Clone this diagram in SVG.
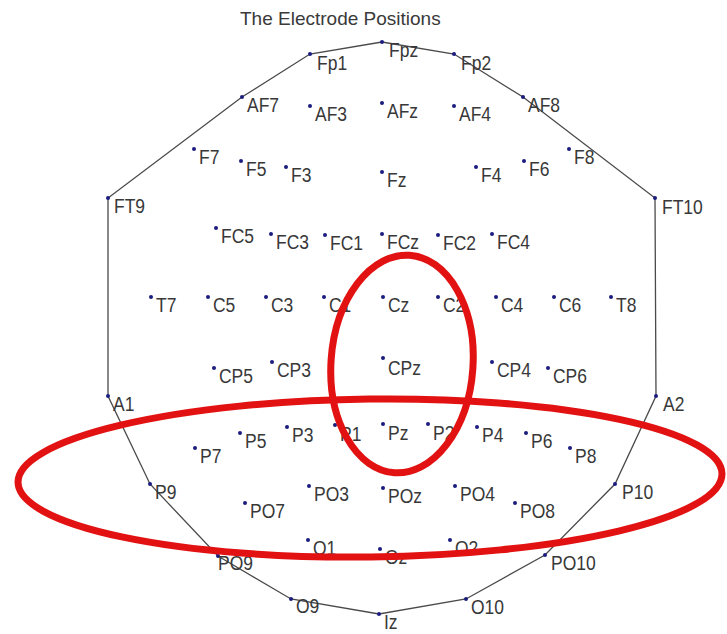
<svg xmlns="http://www.w3.org/2000/svg" width="727" height="634" viewBox="0 0 727 634">
<style>
  .bg{fill:#ffffff}
  .title{font-family:"Liberation Sans",Arial,sans-serif;font-size:19px;fill:#3a3a3a}
  .node circle{fill:#1c1c80}
  .node text{font-family:"Liberation Sans",Arial,sans-serif;font-size:17.5px;fill:#383838;transform:scale(1,1.12)}
  .outline{fill:none;stroke:#4a4a4a;stroke-width:1.3}
  .mark{fill:none;stroke:#e31212;stroke-width:7}
</style>
<rect class="bg" x="0" y="0" width="727" height="634"/>
<text class="title" x="240" y="25">The Electrode Positions</text>

<g id="connectors">
  <polygon class="outline" points="382,42 310,54 242,97 108,198 108,396 150,484 218,556 291,599 379,614 466,599 545,555 615,484 656,396 655,198 523,97 454,54"/>
</g>

<g id="nodes">
  <g id="Fp1" class="node" transform="translate(310 54)"><circle r="2"/><text x="7" y="14.5">Fp1</text></g>
  <g id="Fpz" class="node" transform="translate(382 42)"><circle r="2"/><text x="7" y="13.5">Fpz</text></g>
  <g id="Fp2" class="node" transform="translate(454 54)"><circle r="2"/><text x="7" y="14.5">Fp2</text></g>

  <g id="AF7" class="node" transform="translate(242 97)"><circle r="2"/><text x="5" y="13.5">AF7</text></g>
  <g id="AF3" class="node" transform="translate(310 106)"><circle r="2"/><text x="5" y="13.5">AF3</text></g>
  <g id="AFz" class="node" transform="translate(382 103)"><circle r="2"/><text x="5" y="13.5">AFz</text></g>
  <g id="AF4" class="node" transform="translate(454 106)"><circle r="2"/><text x="5" y="13.5">AF4</text></g>
  <g id="AF8" class="node" transform="translate(523 97)"><circle r="2"/><text x="5" y="13.5">AF8</text></g>

  <g id="F7" class="node" transform="translate(194 149)"><circle r="2"/><text x="5" y="13.5">F7</text></g>
  <g id="F5" class="node" transform="translate(241 161)"><circle r="2"/><text x="5" y="13.5">F5</text></g>
  <g id="F3" class="node" transform="translate(286 167)"><circle r="2"/><text x="5" y="13.5">F3</text></g>
  <g id="Fz" class="node" transform="translate(382 172)"><circle r="2"/><text x="5" y="13.5">Fz</text></g>
  <g id="F4" class="node" transform="translate(476 167)"><circle r="2"/><text x="5" y="13.5">F4</text></g>
  <g id="F6" class="node" transform="translate(524 161)"><circle r="2"/><text x="5" y="13.5">F6</text></g>
  <g id="F8" class="node" transform="translate(569 149)"><circle r="2"/><text x="5" y="13.5">F8</text></g>

  <g id="FT9" class="node" transform="translate(108 198)"><circle r="2"/><text x="6" y="13">FT9</text></g>
  <g id="FT10" class="node" transform="translate(655 198)"><circle r="2"/><text x="7" y="14.5">FT10</text></g>

  <g id="FC5" class="node" transform="translate(216 228)"><circle r="2"/><text x="5" y="13.5">FC5</text></g>
  <g id="FC3" class="node" transform="translate(271 234)"><circle r="2"/><text x="5" y="13.5">FC3</text></g>
  <g id="FC1" class="node" transform="translate(325 235)"><circle r="2"/><text x="5" y="13.5">FC1</text></g>
  <g id="FCz" class="node" transform="translate(382 234)"><circle r="2"/><text x="5" y="13.5">FCz</text></g>
  <g id="FC2" class="node" transform="translate(438 235)"><circle r="2"/><text x="5" y="13.5">FC2</text></g>
  <g id="FC4" class="node" transform="translate(492 234)"><circle r="2"/><text x="5" y="13.5">FC4</text></g>

  <g id="T7" class="node" transform="translate(151 297)"><circle r="2"/><text x="5" y="13.5">T7</text></g>
  <g id="C5" class="node" transform="translate(208 297)"><circle r="2"/><text x="5" y="13.5">C5</text></g>
  <g id="C3" class="node" transform="translate(266 297)"><circle r="2"/><text x="5" y="13.5">C3</text></g>
  <g id="C1" class="node" transform="translate(324 297)"><circle r="2"/><text x="5" y="13.5">C1</text></g>
  <g id="Cz" class="node" transform="translate(383 297)"><circle r="2"/><text x="5" y="13.5">Cz</text></g>
  <g id="C2" class="node" transform="translate(438 297)"><circle r="2"/><text x="5" y="13.5">C2</text></g>
  <g id="C4" class="node" transform="translate(496 297)"><circle r="2"/><text x="5" y="13.5">C4</text></g>
  <g id="C6" class="node" transform="translate(554 297)"><circle r="2"/><text x="5" y="13.5">C6</text></g>
  <g id="T8" class="node" transform="translate(611 297)"><circle r="2"/><text x="5" y="13.5">T8</text></g>

  <g id="CP5" class="node" transform="translate(214 368)"><circle r="2"/><text x="5" y="13.5">CP5</text></g>
  <g id="CP3" class="node" transform="translate(272 362)"><circle r="2"/><text x="5" y="13.5">CP3</text></g>
  <g id="CPz" class="node" transform="translate(383 358)"><circle r="2"/><text x="5" y="15">CPz</text></g>
  <g id="CP4" class="node" transform="translate(492 362)"><circle r="2"/><text x="5" y="13.5">CP4</text></g>
  <g id="CP6" class="node" transform="translate(548 368)"><circle r="2"/><text x="5" y="13.5">CP6</text></g>

  <g id="A1" class="node" transform="translate(108 396)"><circle r="2"/><text x="5" y="13.5">A1</text></g>
  <g id="A2" class="node" transform="translate(656 396)"><circle r="2"/><text x="7" y="13.5">A2</text></g>

  <g id="P7" class="node" transform="translate(195 448)"><circle r="2"/><text x="5" y="13.5">P7</text></g>
  <g id="P5" class="node" transform="translate(240 433)"><circle r="2"/><text x="5" y="13.5">P5</text></g>
  <g id="P3" class="node" transform="translate(287 427)"><circle r="2"/><text x="5" y="13.5">P3</text></g>
  <g id="P1" class="node" transform="translate(335 425)"><circle r="2"/><text x="5" y="14.5">P1</text></g>
  <g id="Pz" class="node" transform="translate(383 424)"><circle r="2"/><text x="5" y="14.5">Pz</text></g>
  <g id="P2" class="node" transform="translate(428 424)"><circle r="2"/><text x="5" y="14.5">P2</text></g>
  <g id="P4" class="node" transform="translate(477 427)"><circle r="2"/><text x="5" y="13.5">P4</text></g>
  <g id="P6" class="node" transform="translate(526 433)"><circle r="2"/><text x="5" y="13.5">P6</text></g>
  <g id="P8" class="node" transform="translate(570 448)"><circle r="2"/><text x="5" y="13.5">P8</text></g>

  <g id="P9" class="node" transform="translate(150 484)"><circle r="2"/><text x="5" y="13.5">P9</text></g>
  <g id="P10" class="node" transform="translate(615 484)"><circle r="2"/><text x="7" y="13.5">P10</text></g>

  <g id="PO7" class="node" transform="translate(245 503)"><circle r="2"/><text x="5" y="13.5">PO7</text></g>
  <g id="PO3" class="node" transform="translate(309 486)"><circle r="2"/><text x="5" y="13.5">PO3</text></g>
  <g id="POz" class="node" transform="translate(383 488)"><circle r="2"/><text x="5" y="13.5">POz</text></g>
  <g id="PO4" class="node" transform="translate(455 486)"><circle r="2"/><text x="5" y="13.5">PO4</text></g>
  <g id="PO8" class="node" transform="translate(515 503)"><circle r="2"/><text x="5" y="13.5">PO8</text></g>

  <g id="O1" class="node" transform="translate(308 540)"><circle r="2"/><text x="5" y="13">O1</text></g>
  <g id="Oz" class="node" transform="translate(380 549)"><circle r="2"/><text x="5" y="13">Oz</text></g>
  <g id="O2" class="node" transform="translate(450 540)"><circle r="2"/><text x="5" y="13">O2</text></g>

  <g id="PO9" class="node" transform="translate(218 556)"><circle r="2"/><text x="0" y="12.5">PO9</text></g>
  <g id="PO10" class="node" transform="translate(545 555)"><circle r="2"/><text x="6" y="13">PO10</text></g>

  <g id="O9" class="node" transform="translate(291 599)"><circle r="2"/><text x="5" y="12.5">O9</text></g>
  <g id="O10" class="node" transform="translate(466 599)"><circle r="2"/><text x="5" y="13">O10</text></g>
  <g id="Iz" class="node" transform="translate(379 614)"><circle r="2"/><text x="5" y="13">Iz</text></g>
</g>

<g id="highlights">
  <ellipse class="mark" cx="402" cy="364" rx="71" ry="109" transform="rotate(4 402 364)"/>
  <ellipse class="mark" cx="370" cy="478" rx="352" ry="79" transform="rotate(-0.7 370 478)"/>
</g>
</svg>
